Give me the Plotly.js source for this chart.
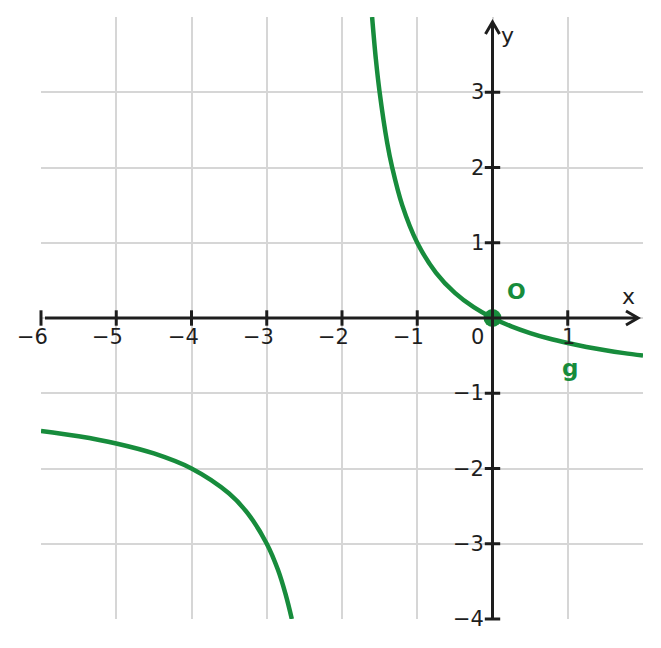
<!DOCTYPE html>
<html>
<head>
<meta charset="utf-8">
<script src="https://cdn.plot.ly/plotly-3.0.1.min.js"></script>
<style>html,body{margin:0;padding:0;background:#fff;}#chart{width:661px;height:648px;}</style>
</head>
<body>
<div id="chart"></div>
<script>
// Points (two branches)
const leftX  = [-6, -5.5, -5, -4.5, -4, -3.5, -3.25, -3, -2.85, -2.75, -2.667];
const leftY  = [-1.5, -1.571, -1.667, -1.8, -2, -2.333, -2.6, -3, -3.35, -3.67, -4];
const rightX = [-1.6, -1.55, -1.5, -1.4, -1.333, -1.2, -1, -0.75, -0.5, -0.25, 0, 0.25, 0.5, 0.75, 1, 1.25, 1.5, 1.75, 2];
const rightY = [4, 3.44, 3, 2.33, 2, 1.5, 1, 0.6, 0.333, 0.143, 0, -0.111, -0.2, -0.273, -0.333, -0.385, -0.429, -0.467, -0.5];
const pointX = [0];
const pointY = [0];
const pointLabel = ['O'];
const curveLabel = 'g';
const curveLabelX = 1;
const curveLabelY = -0.67;
const xTicks = [-6, -5, -4, -3, -2, -1, 1];
const yTicks = [-4, -3, -2, -1, 1, 2, 3];
const xRange = [-6, 2];
const yRange = [-4, 4];

const W = 661, H = 648;
const M = {l: 41, r: 18, t: 17, b: 29};
const plotW = W - M.l - M.r, plotH = H - M.t - M.b;
const green = '#178c3c';
const dark = '#1e1e1e';
const font = '"DejaVu Sans", sans-serif';
const mn = v => (v < 0 ? '\u2212' + Math.abs(v) : String(v));

const traces = [
  {x: leftX, y: leftY, mode: 'lines', line: {color: green, width: 4.5, shape: 'spline'}, hoverinfo: 'skip'},
  {x: rightX, y: rightY, mode: 'lines', line: {color: green, width: 4.5, shape: 'spline'}, hoverinfo: 'skip'},
  {x: xTicks, y: xTicks.map(() => 0), mode: 'markers', marker: {symbol: 'line-ns', size: 11, line: {color: dark, width: 3}}, hoverinfo: 'skip', cliponaxis: false},
  {x: yTicks.map(() => 0), y: yTicks, mode: 'markers', marker: {symbol: 'line-ew', size: 11, line: {color: dark, width: 3}}, hoverinfo: 'skip', cliponaxis: false},
  {x: pointX, y: pointY, mode: 'markers', marker: {color: green, size: 18}, hoverinfo: 'skip', cliponaxis: false}
];

const annotations = [];
xTicks.forEach(v => annotations.push({x: v, y: 0, xref: 'x', yref: 'y', text: mn(v), showarrow: false,
  xanchor: 'right', yanchor: 'top', xshift: 9, yshift: -5, font: {family: font, size: 21, color: dark}}));
yTicks.forEach(v => annotations.push({x: 0, y: v, xref: 'x', yref: 'y', text: mn(v), showarrow: false,
  xanchor: 'right', yanchor: 'middle', xshift: -7, font: {family: font, size: 21, color: dark}}));
annotations.push({x: 0, y: 0, xref: 'x', yref: 'y', text: '0', showarrow: false,
  xanchor: 'right', yanchor: 'top', xshift: -7, yshift: -5, font: {family: font, size: 21, color: dark}});
annotations.push({x: xRange[1], y: 0, xref: 'x', yref: 'y', text: 'x', showarrow: false,
  xanchor: 'center', yanchor: 'bottom', xshift: -15, yshift: 7, font: {family: font, size: 22, color: dark}});
annotations.push({x: 0, y: yRange[1], xref: 'x', yref: 'y', text: 'y', showarrow: false,
  xanchor: 'left', yanchor: 'top', xshift: 6, yshift: -4, font: {family: font, size: 22, color: dark}});
pointX.forEach((px, i) => annotations.push({x: px, y: pointY[i], xref: 'x', yref: 'y', text: '<b>' + pointLabel[i] + '</b>', showarrow: false,
  xanchor: 'left', yanchor: 'bottom', xshift: 12, yshift: 12, font: {family: font, size: 22, color: green}}));
annotations.push({x: curveLabelX, y: curveLabelY, xref: 'x', yref: 'y', text: '<b>' + curveLabel + '</b>', showarrow: false,
  xanchor: 'center', yanchor: 'middle', xshift: 2, font: {family: font, size: 23, color: green}});

const shapes = [
  {type: 'line', xref: 'x', yref: 'y', xsizemode: 'pixel', xanchor: xRange[1], x0: -(plotW - 4), x1: -6, y0: 0, y1: 0,
   line: {color: dark, width: 3}, layer: 'above'},
  {type: 'line', xref: 'x', yref: 'y', ysizemode: 'pixel', yanchor: yRange[0], x0: 0, x1: 0, y0: 0, y1: plotH - 6,
   line: {color: dark, width: 3}, layer: 'above'},
  {type: 'path', xref: 'x', yref: 'y', xsizemode: 'pixel', ysizemode: 'pixel', xanchor: xRange[1], yanchor: 0,
   path: 'M -17,7 L -5,0 L -17,-7', line: {color: dark, width: 3}, layer: 'above'},
  {type: 'path', xref: 'x', yref: 'y', xsizemode: 'pixel', ysizemode: 'pixel', xanchor: 0, yanchor: yRange[1],
   path: 'M -7,-17 L 0,-5 L 7,-17', line: {color: dark, width: 3}, layer: 'above'}
];

const axisCommon = {showgrid: true, gridcolor: '#d6d6d6', gridwidth: 2, dtick: 1, zeroline: false,
  showticklabels: false, ticks: '', showline: false, fixedrange: true};

const layout = {
  width: W, height: H, margin: M, showlegend: false,
  paper_bgcolor: '#ffffff', plot_bgcolor: '#ffffff',
  xaxis: Object.assign({}, axisCommon, {range: xRange, tick0: xRange[0]}),
  yaxis: Object.assign({}, axisCommon, {range: yRange, tick0: yRange[0]}),
  annotations: annotations, shapes: shapes
};

Plotly.newPlot('chart', traces, layout, {displayModeBar: false, staticPlot: true});
</script>
</body>
</html>
